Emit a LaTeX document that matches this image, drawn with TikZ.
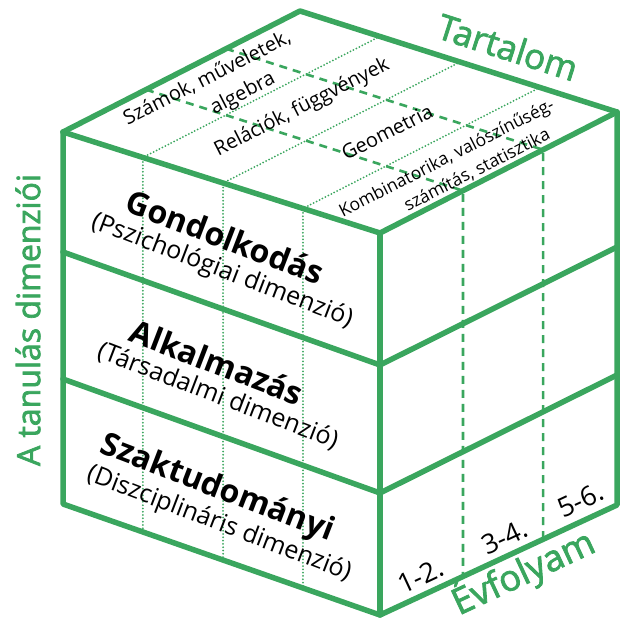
\documentclass[tikz,border=0pt]{standalone}
\usepackage{fontspec}
\setmainfont{Open Sans}
\newfontfamily\axisfont{Open Sans}[FakeBold=2.2]
\usetikzlibrary{calc}
\definecolor{cubegreen}{RGB}{58,166,94}
\begin{document}
\begin{tikzpicture}[x=1pt,y=-1pt,
  edge/.style={draw=cubegreen,line width=5.5pt,line join=round,line cap=round},
  gridfine/.style={draw=cubegreen,line width=2pt,line cap=round,dash pattern=on 0pt off 3.3pt},
  griddash/.style={draw=cubegreen,line width=2.6pt,dash pattern=on 8pt off 6pt},
  axislabel/.style={text=cubegreen,font=\axisfont\fontsize{35}{38}\selectfont,inner sep=0pt},
  topfacelabel/.style={font=\fontsize{20}{22}\selectfont,rotate=27,inner sep=0pt},
  topfacesmall/.style={font=\fontsize{17.5}{19}\selectfont,rotate=27,inner sep=0pt},
  layerbold/.style={font=\bfseries\fontsize{32}{34}\selectfont,rotate=-21,inner sep=0pt},
  layersub/.style={font=\fontsize{25}{27}\selectfont,rotate=-21,inner sep=0pt},
  gradelabel/.style={font=\fontsize{27}{29}\selectfont,rotate=25,inner sep=0pt}]
\useasboundingbox (0,0) rectangle (621,623);

% cube corners
\coordinate (A) at (300,11);
\coordinate (B) at (63,132);
\coordinate (C) at (380,233);
\coordinate (D) at (617,112);
% layer boundaries on the left, front and right edges
\coordinate (L1) at (63,252);
\coordinate (L2) at (63,379);
\coordinate (L3) at (63,504);
\coordinate (F1) at (380,365);
\coordinate (F2) at (380,493);
\coordinate (F3) at (380,615);
\coordinate (R1) at (617,247);
\coordinate (R2) at (617,375);
\coordinate (R3) at (617,505);

% content strips: dotted across the top and down the left face
\foreach \t [count=\i] in {0.252,0.505,0.757} {
  \coordinate (p\i) at ($(B)!\t!(C)$);
  \coordinate (q\i) at ($(A)!\t!(D)$);
  \coordinate (r\i) at ($(L3)!\t!(F3)$);
  \draw[gridfine] (q\i) -- (p\i) -- (r\i);
}
% grade columns: dashed across the top and down the right face
\foreach \t [count=\j] in {0.35,0.688} {
  \coordinate (s\j) at ($(C)!\t!(D)$);
  \coordinate (u\j) at ($(B)!\t!(A)$);
  \coordinate (v\j) at ($(F3)!\t!(R3)$);
  \draw[griddash] (u\j) -- (s\j) -- (v\j);
}

% top face labels
\node[topfacelabel] (szamok) at (207,78) {Számok, műveletek,};
\node[topfacelabel] (algebra) at (243,94) {algebra};
\node[topfacelabel] (relaciok) at (302,108) {Relációk, függvények};
\node[topfacelabel] (geometria) at (387,132) {Geometria};
\node[topfacesmall] (kombi) at (447,159) {Kombinatorika, valószínűség-};
\node[topfacesmall] (szamitas) at (477,170) {számítás, statisztika};

% left face labels
\node[layerbold] (gond) at (225,237) {Gondolkodás};
\node[layersub] (gondsub) at (222,271) {(Pszichológiai dimenzió)};
\node[layerbold] (alk) at (217,362) {Alkalmazás};
\node[layersub] (alksub) at (218,396) {(Társadalmi dimenzió)};
\node[layerbold] (szak) at (217,489) {Szaktudományi};
\node[layersub] (szaksub) at (219,524) {(Diszciplináris dimenzió)};

% right face labels
\node[gradelabel] (g12) at (421,576) {1-2.};
\node[gradelabel] (g34) at (505,537) {3-4.};
\node[gradelabel] (g56) at (581,500) {5-6.};

% cube edges
\draw[edge] (B) -- (A) -- (D);
\draw[edge] (B) -- (C) -- (D);
\draw[edge] (B) -- (L3) -- (F3) -- (R3) -- (D);
\draw[edge] (C) -- (F3);
\draw[edge] (L1) -- (F1) -- (R1);
\draw[edge] (L2) -- (F2) -- (R2);

% axis titles
\node[axislabel,rotate=-17.8] (tartalom) at (508,47) {Tartalom};
\node[axislabel,rotate=90,font=\axisfont\fontsize{32}{35}\selectfont] (tanulas) at (28,320) {A tanulás dimenziói};
\node[axislabel,rotate=25,font=\axisfont\fontsize{36}{39}\selectfont] (evfolyam) at (523,572) {Évfolyam};
\end{tikzpicture}
\end{document}
